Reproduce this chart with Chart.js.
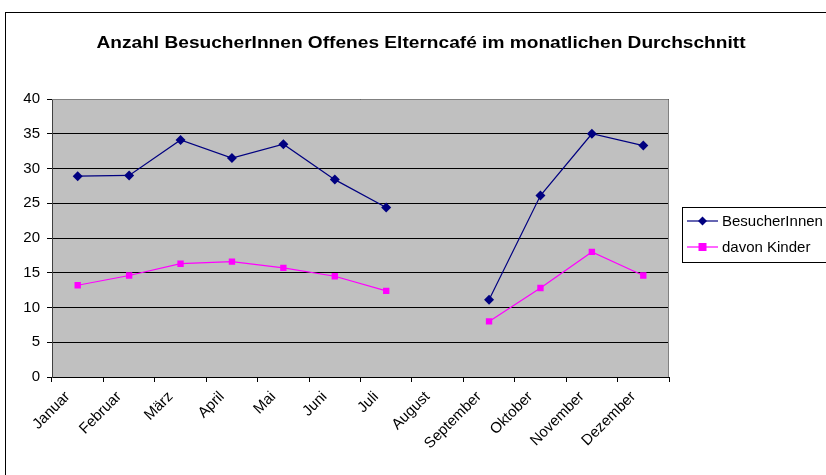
<!DOCTYPE html>
<html>
<head>
<meta charset="utf-8">
<script src="https://cdn.jsdelivr.net/npm/chart.js"></script>
<style>
  html, body { margin: 0; padding: 0; background: #fff; }
  #wrap { width: 826px; height: 475px; position: relative; }
</style>
</head>
<body>
<div id="wrap"><canvas id="visitorChart" width="826" height="475"></canvas></div>
<script>
// data
const months = ["Januar", "Februar", "März", "April", "Mai", "Juni", "Juli", "August", "September", "Oktober", "November", "Dezember"];
const visitors = [28.9, 29.0, 34.1, 31.5, 33.5, 28.4, 24.4, null, 11.1, 26.1, 35.0, 33.3];
const children = [13.2, 14.6, 16.3, 16.6, 15.7, 14.5, 12.4, null, 8.0, 12.8, 18.0, 14.6];
const yTicks = [0, 5, 10, 15, 20, 25, 30, 35, 40];
const titleText = "Anzahl BesucherInnen Offenes Elterncafé im monatlichen Durchschnitt";
const seriesNames = ["BesucherInnen", "davon Kinder"];

const FONT = "'Liberation Sans', Arial, sans-serif";

// frame, title, plot background, plot border and legend box
const excelLook = {
    id: 'excelLook',
    beforeDraw(chart) {
        const c = chart.ctx, a = chart.chartArea;
        c.save();
        c.fillStyle = '#fff';
        c.fillRect(0, 0, chart.width, chart.height);
        c.strokeStyle = '#000';
        c.lineWidth = 1;
        c.strokeRect(5.5, 12.5, 900, 500);
        // title, stretched a little like the original
        c.fillStyle = '#000';
        c.font = 'bold 17px ' + FONT;
        c.textAlign = 'center';
        c.textBaseline = 'middle';
        const w = c.measureText(titleText).width;
        c.translate(421, 43);
        c.scale(649 / w, 1);
        c.fillText(titleText, 0, 0);
        c.restore();
        c.save();
        c.fillStyle = '#c0c0c0';
        c.fillRect(a.left, a.top, a.right - a.left, a.bottom - a.top);
        c.restore();
    },
    afterDraw(chart) {
        const c = chart.ctx, a = chart.chartArea;
        c.save();
        c.strokeStyle = '#808080';
        c.lineWidth = 1;
        c.beginPath();
        c.moveTo(a.left, a.top + 0.5);
        c.lineTo(a.right - 0.5, a.top + 0.5);
        c.lineTo(a.right - 0.5, a.bottom);
        c.stroke();
        // legend
        c.strokeStyle = '#000';
        c.fillStyle = '#fff';
        c.fillRect(682.5, 207.5, 160, 55);
        c.strokeRect(682.5, 207.5, 160, 55);
        c.font = '15px ' + FONT;
        c.textAlign = 'left';
        c.textBaseline = 'middle';
        chart.data.datasets.forEach(function(ds, i) {
            const y = 221 + i * 26;
            c.strokeStyle = ds.borderColor;
            c.lineWidth = ds.borderWidth;
            c.beginPath();
            c.moveTo(687, y);
            c.lineTo(718, y);
            c.stroke();
            c.fillStyle = ds.backgroundColor;
            c.beginPath();
            if (ds.pointStyle === 'rectRot') {
                c.moveTo(702.5, y - 4.5);
                c.lineTo(707, y);
                c.lineTo(702.5, y + 4.5);
                c.lineTo(698, y);
                c.closePath();
            } else {
                c.rect(698.5, y - 4, 8, 8);
            }
            c.fill();
            c.fillStyle = '#000';
            c.fillText(ds.label, 722, y + 1);
        });
        c.restore();
    }
};

const ctx = document.getElementById('visitorChart').getContext('2d');
const visitorChart = new Chart(ctx, {
    type: 'line',
    data: {
        labels: months,
        datasets: [
            {
                label: seriesNames[0],
                data: visitors,
                borderColor: '#000080',
                backgroundColor: '#000080',
                borderWidth: 1.2,
                pointStyle: 'rectRot',
                pointRadius: 5,
                pointBorderWidth: 0,
                spanGaps: false,
                tension: 0
            },
            {
                label: seriesNames[1],
                data: children,
                borderColor: '#ff00ff',
                backgroundColor: '#ff00ff',
                borderWidth: 1.2,
                pointStyle: 'rect',
                pointRadius: 4.5,
                pointBorderWidth: 0,
                spanGaps: false,
                tension: 0
            }
        ]
    },
    options: {
        responsive: false,
        animation: false,
        layout: { padding: { left: 10, top: 99, right: 157, bottom: 0 } },
        plugins: {
            legend: { display: false },
            title: { display: false },
            tooltip: { enabled: false }
        },
        scales: {
            x: {
                offset: true,
                afterFit: function(scale) { scale.height = 98; },
                grid: {
                    offset: true,
                    drawOnChartArea: false,
                    drawTicks: true,
                    tickLength: 5,
                    color: '#000'
                },
                border: { color: '#000', width: 1 },
                ticks: {
                    minRotation: 45,
                    maxRotation: 45,
                    color: '#000',
                    padding: 6,
                    labelOffset: -10,
                    font: { family: FONT, size: 15 }
                }
            },
            y: {
                min: 0,
                max: 40,
                afterFit: function(scale) { scale.width = 42; },
                afterBuildTicks: function(scale) {
                    scale.ticks = yTicks.map(function(v) { return { value: v }; });
                },
                grid: {
                    color: '#000',
                    lineWidth: 1,
                    tickLength: 5,
                    drawTicks: true
                },
                border: { color: '#404040', width: 1 },
                ticks: {
                    color: '#000',
                    padding: 7,
                    font: { family: FONT, size: 15 }
                }
            }
        }
    },
    plugins: [excelLook]
});
</script>
</body>
</html>
